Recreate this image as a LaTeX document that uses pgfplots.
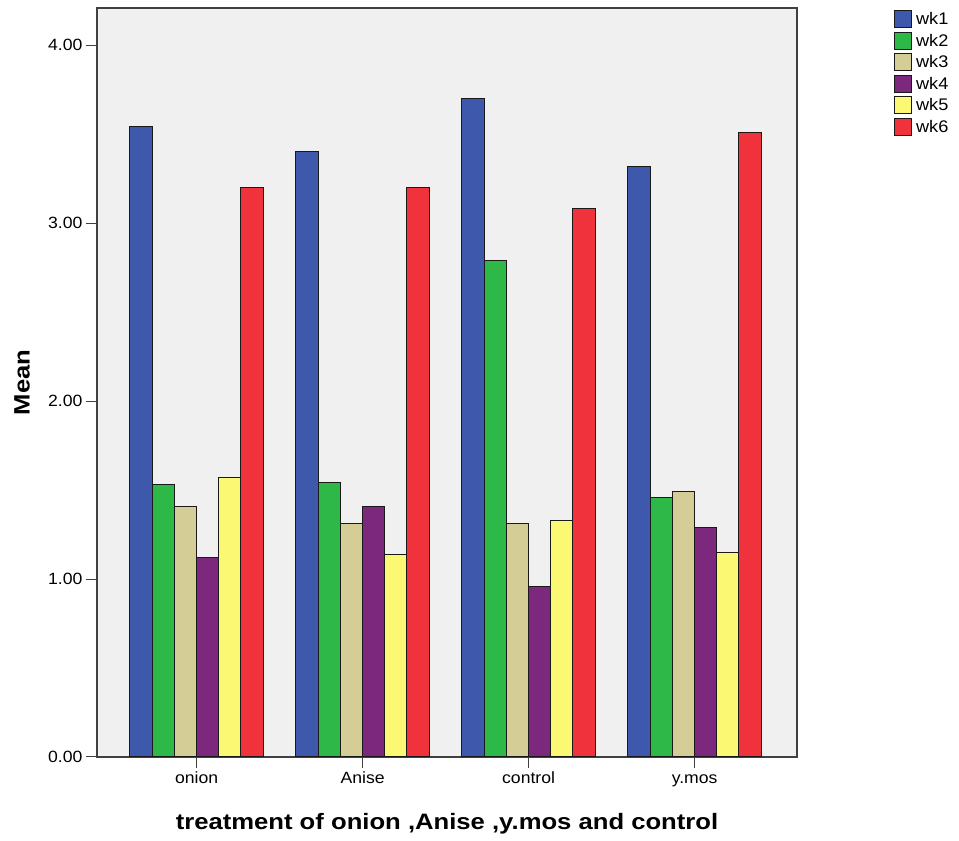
\documentclass[border=0pt]{standalone}
\usepackage{pgfplots}
\pgfplotsset{compat=1.18}
\usepackage{fontspec}
\setmainfont{Liberation Sans}
\newfontfamily\tickfont{Liberation Sans}[FakeStretch=1.08]
\newfontfamily\labfont{Liberation Sans}[FakeStretch=1.15]
\definecolor{plotbg}{HTML}{F0F0F0}
\definecolor{c1}{HTML}{3E58AC}
\definecolor{c2}{HTML}{2EB848}
\definecolor{c3}{HTML}{D4CE96}
\definecolor{c4}{HTML}{7C287C}
\definecolor{c5}{HTML}{FBF873}
\definecolor{c6}{HTML}{F0323C}
\begin{document}
\begin{tikzpicture}
\begin{axis}[
  at={(97pt,84pt)}, anchor=south west,
  scale only axis, width=700pt, height=749pt,
  ymin=0, ymax=4.208, xmin=-0.6, xmax=3.617,
  ybar=0pt, bar width=22.2pt,
  axis background/.style={fill=plotbg},
  axis line style={draw=black!75, line width=1.3pt},
  xtick={0,1,2,3}, xticklabels={onion,Anise,control,y.mos},
  ytick={0,1,2,3,4},
  tick align=outside, major tick length=11pt,
  tick style={draw=black!75, line width=1pt},
  xtick pos=bottom, ytick pos=left,
  x tick label style={font=\tickfont\fontsize{16.3}{16}\selectfont, text height=12pt, text depth=4pt},
  y tick label style={/pgf/number format/.cd, fixed, fixed zerofill, precision=2, assume math mode=true, /tikz/.cd, font=\tickfont\fontsize{16.3}{16}\selectfont},
  every axis x label/.style={at={(axis description cs:0.5,-0.0895)}, anchor=center, font=\labfont\bfseries\fontsize{22.3}{22}\selectfont},
  every axis y label/.style={at={(axis description cs:-0.107,0.5)}, rotate=90, anchor=center, font=\labfont\bfseries\fontsize{22.3}{22}\selectfont},
  xlabel={treatment of onion ,Anise ,y.mos and control},
  ylabel={Mean},
  legend style={at={(axis description cs:1.138,0.997)}, anchor=north west, draw=none, fill=none, inner sep=0pt, row sep=3.7pt,
    font=\tickfont\fontsize{16.8}{16}\selectfont, nodes={inner sep=1pt},
    /tikz/every odd column/.append style={column sep=3.5pt}},
  legend cell align=left,
  legend image code/.code={\draw[#1, line width=0.8pt] (0pt,-8.5pt) rectangle (17pt,8.5pt);},
  every axis plot/.append style={draw=black!90, line width=1pt},
]
\addplot[fill=c1] coordinates {(0,3.54) (1,3.40) (2,3.70) (3,3.32)};
\addplot[fill=c2] coordinates {(0,1.53) (1,1.54) (2,2.79) (3,1.46)};
\addplot[fill=c3] coordinates {(0,1.41) (1,1.31) (2,1.31) (3,1.49)};
\addplot[fill=c4] coordinates {(0,1.12) (1,1.41) (2,0.96) (3,1.29)};
\addplot[fill=c5] coordinates {(0,1.57) (1,1.14) (2,1.33) (3,1.15)};
\addplot[fill=c6] coordinates {(0,3.20) (1,3.20) (2,3.08) (3,3.51)};
\legend{wk1,wk2,wk3,wk4,wk5,wk6}
\end{axis}
\pgfresetboundingbox
\path[use as bounding box] (0,0) rectangle (959pt,841pt);
\end{tikzpicture}
\end{document}
